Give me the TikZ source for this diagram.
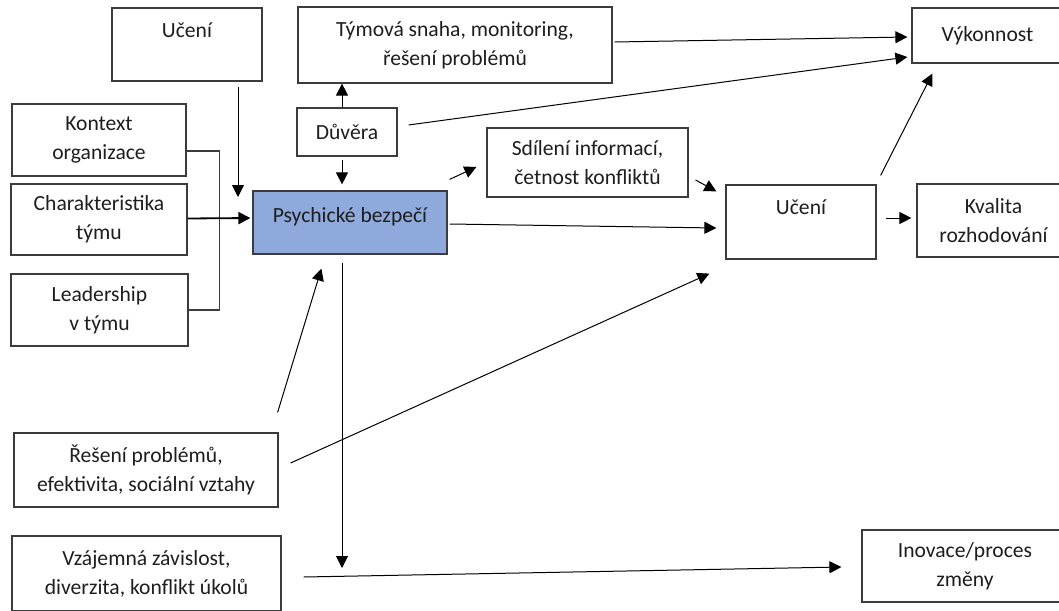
\documentclass[tikz,border=0pt]{standalone}
\usepackage{fontspec}
\setmainfont{Carlito}
\usetikzlibrary{arrows.meta}
\definecolor{psyfill}{RGB}{142,169,219}
\definecolor{edge}{RGB}{60,60,60}
\definecolor{ink}{RGB}{30,30,30}
\tikzset{
  box/.style={draw=edge, line width=1.2pt, fill=white, align=center, inner sep=0pt,
              text=ink, font=\fontsize{21.6}{29}\selectfont},
  arr/.style={draw=black, line width=1pt,
              -{Triangle[length=12pt,width=12pt]}},
  thickarr/.style={arr, line width=1.8pt},
  bracket/.style={draw=edge, line width=1.2pt}
}
\begin{document}
\begin{tikzpicture}[x=1pt,y=-1pt]
\useasboundingbox (0,0) rectangle (1059,610);

% boxes
\node[box, minimum width=150, minimum height=73] (uceniA) at (187,44.5) {Učení\\\mbox{}};
\node[box, minimum width=314, minimum height=76] (tymova) at (455,45) {Týmová snaha, monitoring,\\řešení problémů};
\node[box, minimum width=151, minimum height=55] (vykon) at (987.5,35.5) {Výkonnost};
\node[box, minimum width=174, minimum height=72] (kontext) at (99,140) {Kontext\\organizace};
\node[box, minimum width=176, minimum height=71] (charakt) at (99,219.5) {Charakteristika\\týmu};
\node[box, minimum width=177, minimum height=72] (leader) at (99.5,310) {Leadership\\v týmu};
\node[box, minimum width=100, minimum height=48] (duvera) at (347,132) {Důvěra};
\node[box, fill=psyfill, minimum width=194, minimum height=63] (psych) at (350,222.5) {Psychické bezpečí\\[-14.5pt]\mbox{}};
\node[box, minimum width=201, minimum height=69] (sdileni) at (587.5,162.5) {Sdílení informací,\\četnost konfliktů};
\node[box, minimum width=150, minimum height=74] (uceniB) at (801,222) {Učení\\\mbox{}};
\node[box, minimum width=153, minimum height=73] (kvalita) at (993.5,220.5) {Kvalita\\rozhodování};
\node[box, minimum width=264, minimum height=74] (reseni) at (146,470) {Řešení problémů,\\efektivita, sociální vztahy};
\node[box, minimum width=269, minimum height=75] (vzajem) at (146.5,573.5) {Vzájemná závislost,\\diverzita, konflikt úkolů};
\node[box, minimum width=206, minimum height=72] (inovace) at (965,566) {Inovace/proces\\změny};

% free ends
\coordinate (lrnEnd) at (238,197);
\coordinate (downEnd) at (342,568);

% left side inputs
\draw[arr] ([xshift=51pt,yshift=-5pt]uceniA.south) -- (lrnEnd);
\draw[bracket] ([yshift=-11pt]kontext.east) -- ++(33,0) |- (leader.east);
\draw[thickarr] ([yshift=1pt]charakt.east) -- ([xshift=-2pt,yshift=4.5pt]psych.west);

% trust
\draw[arr] ([xshift=-5pt]duvera.north) -- ([xshift=-5pt]duvera.north |- tymova.south);
\draw[arr] ([xshift=-5pt,yshift=-3pt]duvera.south) -- ([xshift=-8pt,yshift=6pt]psych.north);
\draw[arr] ([xshift=11pt,yshift=7pt]duvera.east) -- ([xshift=-4pt,yshift=-21.5pt]vykon.west);
\draw[arr] ([xshift=2pt,yshift=3pt]tymova.east) -- ([xshift=-4pt,yshift=-1.5pt]vykon.west);

% psychological safety outputs
\draw[arr] ([xshift=2pt,yshift=11pt]psych.north east) -- ([xshift=-10pt,yshift=-4.5pt]sdileni.west);
\draw[arr] ([xshift=7pt,yshift=-17.5pt]sdileni.east) -- ([xshift=-9pt,yshift=-7pt]uceniB.north west);
\draw[arr] ([xshift=2pt,yshift=-1.5pt]psych.east) -- ([xshift=-9pt,yshift=-6pt]uceniB.west);
\draw[arr] ([xshift=-8pt,yshift=-8pt]psych.south) -- (downEnd);

% learning outputs
\draw[arr] ([xshift=9pt,yshift=4pt]uceniB.east) -- ([xshift=-5pt,yshift=2.5pt]kvalita.west);
\draw[arr] ([xshift=4pt,yshift=9pt]uceniB.north east) -- ([xshift=21pt,yshift=-10pt]vykon.south west);

% lower inputs
\draw[arr] ([xshift=-1pt,yshift=20pt]reseni.north east) -- ([xshift=69pt,yshift=-14pt]psych.south west);
\draw[arr] ([xshift=12pt,yshift=7pt]reseni.east) -- ([xshift=-16pt,yshift=-14pt]uceniB.south west);
\draw[arr] ([xshift=22pt,yshift=-3.5pt]vzajem.east) -- ([xshift=-20pt,yshift=-1pt]inovace.west);
\end{tikzpicture}
\end{document}
